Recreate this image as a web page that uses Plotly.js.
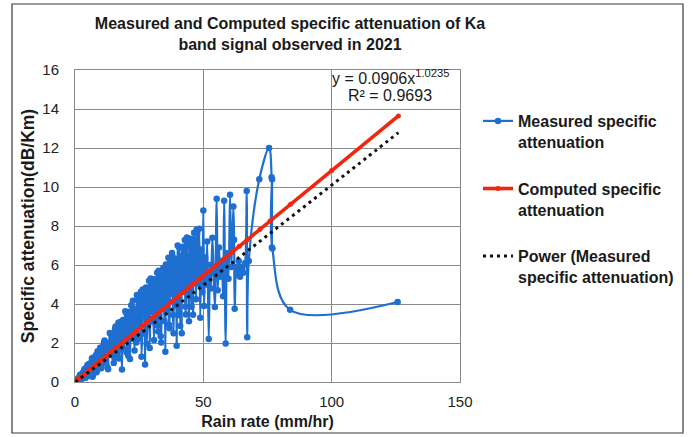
<!DOCTYPE html>
<html>
<head>
<meta charset="utf-8">
<script src="https://cdn.plot.ly/plotly-3.0.1.min.js"></script>
<style>
html,body{margin:0;padding:0;background:#fff;}
#chart{width:695px;height:437px;}
</style>
</head>
<body>
<div id="chart"></div>
<script>
// ---- Data ----
const rainRate = [
  0.2,0.4,0.6,0.8,1.0,1.2,1.4,1.6,1.8,2.0,2.2,2.4,2.6,2.8,3.0,3.2,3.4,3.6,3.8,4.0,4.2,4.4,4.6,4.8,5.0,
  5.2,5.4,5.6,5.8,6.0,6.2,6.4,6.6,6.8,7.0,7.2,7.4,7.6,7.8,8.0,8.2,8.4,8.6,8.8,9.0,9.2,9.4,9.6,9.8,
  10.2,10.4,10.6,10.85,11.1,11.3,11.5,11.75,12.0,12.2,12.4,12.65,12.9,13.1,13.3,13.55,13.8,14.0,14.2,14.45,
  14.7,14.9,15.1,15.35,15.6,15.8,16.0,16.25,16.5,16.7,16.9,17.15,17.4,17.6,17.8,18.05,18.3,18.5,18.7,18.95,
  19.2,19.4,19.6,19.85,20.1,20.3,20.5,20.75,21.0,21.2,21.4,21.65,21.9,22.1,22.3,22.55,22.8,23.0,23.2,23.45,
  23.7,23.9,24.1,24.35,24.6,24.8,25.0,25.25,25.5,25.7,25.9,26.15,26.4,26.6,26.8,27.05,27.3,27.5,27.7,27.95,
  28.2,28.4,28.6,28.85,29.1,29.3,29.5,29.75,
  30.0,30.2,30.4,30.6,30.8,31.0,31.2,31.4,31.6,31.8,32.0,32.2,32.4,32.6,32.8,33.0,33.2,33.4,33.6,33.8,
  34.0,34.2,34.4,34.6,34.8,35.0,35.2,35.4,35.6,35.8,36.0,36.2,36.4,36.6,36.8,37.0,37.2,37.4,37.6,37.8,
  38.0,38.2,38.4,38.6,38.8,39.0,39.2,39.4,39.6,39.8,40.0,40.2,40.4,40.6,40.8,41.0,41.2,41.4,41.6,41.8,
  42.0,42.2,42.4,42.6,42.8,43.0,43.2,43.4,43.6,43.8,44.0,44.2,44.4,44.6,44.8,45.0,45.2,45.4,45.6,45.8,
  46.0,46.2,46.4,46.6,46.8,47.0,47.2,47.4,47.6,47.8,48.0,
  48.4,48.8,49.2,49.6,50.0,50.3,50.7,51.1,51.5,52.1,52.6,53.0,53.5,54.0,54.5,55.2,55.6,56.1,56.6,57.2,
  57.7,58.1,58.7,59.2,59.8,60.4,60.9,61.7,62.0,62.2,62.8,63.3,63.8,64.3,64.9,65.5,66.3,66.9,67.1,67.7,
  71.8,75.6,76.6,76.7,76.8,76.9,83.8,125.7
];
const measuredAtt = [
  0.04,0.04,0.04,0.14,0.15,0.10,0.13,0.22,0.31,0.37,0.11,0.14,0.34,0.34,0.48,0.29,0.24,0.61,0.68,0.20,0.42,0.66,0.64,0.86,0.30,
  0.57,0.92,0.39,0.70,0.96,0.50,0.83,1.22,0.27,0.35,1.26,1.11,0.68,0.86,1.20,1.39,0.50,0.60,1.58,1.44,1.10,0.85,1.34,1.76,
  0.71,1.56,1.80,0.98,1.33,2.03,2.13,1.29,1.08,2.01,1.98,0.76,0.65,1.83,1.86,2.51,2.48,1.40,1.42,2.46,
  2.28,1.94,0.98,1.23,2.73,2.84,2.08,1.95,1.32,2.59,3.04,1.20,1.91,3.08,2.67,1.99,0.64,2.96,3.18,1.71,
  2.30,2.72,3.63,3.57,1.51,2.44,3.28,1.35,2.84,3.60,1.18,3.03,3.94,2.21,2.23,4.17,3.76,2.99,1.62,3.75,
  3.56,2.03,4.46,4.26,2.21,2.98,4.25,3.79,3.19,4.63,1.30,2.48,4.75,4.26,3.75,3.52,0.90,4.81,4.85,1.96,
  3.24,4.26,4.58,5.19,1.75,3.22,5.31,4.91,
  3.60,4.53,5.17,3.06,2.16,5.27,4.68,3.77,3.16,5.09,5.60,2.90,2.59,5.71,4.59,4.29,5.48,2.34,2.02,5.24,
  4.42,3.76,5.85,5.54,3.13,4.90,1.55,6.02,5.70,3.58,3.96,5.43,6.37,2.93,2.76,6.11,5.39,4.86,4.51,6.62,
  6.46,3.44,2.50,5.79,6.01,4.68,3.92,6.30,1.86,5.57,7.00,4.42,3.43,6.90,6.12,2.87,5.36,6.42,2.50,6.90,
  6.93,5.06,4.66,6.39,7.28,3.87,3.46,6.94,7.41,5.26,6.16,4.64,3.11,7.36,7.17,5.85,4.52,3.86,7.07,7.33,
  3.45,6.47,7.66,5.13,5.62,7.29,4.25,7.82,7.62,6.21,5.04,
  7.86,3.30,6.80,4.60,8.80,3.90,6.40,5.00,7.20,2.20,6.00,4.80,7.40,5.60,3.85,9.40,4.70,6.90,5.40,6.20,
  4.40,9.30,1.97,6.60,5.30,9.60,5.90,9.00,7.30,3.76,5.90,5.50,6.20,5.40,5.90,5.60,6.10,9.80,2.30,6.20,
  10.40,12.00,10.50,6.90,10.40,6.84,3.70,4.10
];

const computedRate = [0.2,1,2,3,4,5,6,8,10,12,14,16,18,20,22,24,26,28,30,32,34,36,38,40,42,44,46,48,50,52,55,58,61,64,67,72,76,84,100,126];
const computedAtt  = [0.023,0.112,0.223,0.333,0.444,0.554,0.664,0.883,1.102,1.321,1.539,1.758,1.976,2.194,2.411,2.629,2.846,3.064,3.281,3.498,3.715,3.932,4.149,4.366,4.583,4.799,5.016,5.232,5.449,5.665,5.990,6.314,6.638,6.962,7.286,7.826,8.258,9.121,10.845,13.642];

const trendRate = [0.1,1,5,10,20,30,40,50,60,70,80,90,100,110,126];
const trendAtt  = [0.009,0.091,0.471,0.956,1.944,2.944,3.952,4.965,5.985,7.008,8.036,9.064,10.098,11.13,12.79];

const xTicks = [0,50,100,150];
const yTicks = [0,2,4,6,8,10,12,14,16];

const seriesNames = [
  'Measured specific<br>attenuation',
  'Computed specific<br>attenuation',
  'Power (Measured<br>specific attenuation)'
];
const titleText = 'Measured and Computed specific attenuation of Ka<br>band signal observed in 2021';
const equationText = 'y = 0.0906x<sup>1.0235</sup>';
const r2Text = 'R² = 0.9693';

// ---- Layout constants ----
const W = 695, H = 437;
const M = {l:75, r:235, t:70, b:55};
const PW = W - M.l - M.r, PH = H - M.t - M.b;
const px2paperX = p => (p - M.l) / PW;
const px2paperY = p => (H - M.b - p) / PH;

const FONT = '"Liberation Sans", Arial, sans-serif';
const GRID = '#8a8a8a';
const BLUE = '#1f6fd1';
const RED = '#f2260f';

const traces = [
  {
    x: rainRate, y: measuredAtt, name: seriesNames[0], legendgroup: 'a',
    type: 'scatter', mode: 'lines+markers',
    line: {color: BLUE, width: 2.2, shape: 'spline', smoothing: 1},
    marker: {color: BLUE, size: 6.5}
  },
  {
    x: computedRate, y: computedAtt, name: seriesNames[1], legendgroup: 'b',
    type: 'scatter', mode: 'lines+markers',
    line: {color: RED, width: 3.6},
    marker: {color: RED, size: 5}
  },
  {
    x: trendRate, y: trendAtt, name: seriesNames[2], legendgroup: 'c',
    type: 'scatter', mode: 'lines',
    line: {color: '#111111', width: 3, dash: '3px,4px', shape: 'spline'}
  }
];

const layout = {
  width: W, height: H,
  margin: M,
  paper_bgcolor: '#ffffff', plot_bgcolor: '#ffffff',
  font: {family: FONT, color: '#1a1a1a', size: 15},
  title: {
    text: titleText,
    font: {family: FONT, size: 16, weight: 'bold', color: '#1a1a1a'},
    x: 290 / W, xref: 'container', xanchor: 'center',
    y: 1 - 29 / H, yref: 'container', yanchor: 'middle'
  },
  xaxis: {
    range: [0, 150], tickvals: xTicks, ticktext: xTicks.map(String),
    showgrid: true, gridcolor: GRID, gridwidth: 1,
    showline: true, linecolor: GRID, mirror: true, zeroline: false,
    ticks: 'outside', ticklen: 6, tickcolor: 'rgba(0,0,0,0)',
    tickfont: {family: FONT, size: 15, color: '#222'},
    title: {text: 'Rain rate (mm/hr)', font: {family: FONT, size: 16, weight: 'bold', color: '#1a1a1a'}, standoff: 6},
    fixedrange: true
  },
  yaxis: {
    range: [0, 16], tickvals: yTicks, ticktext: yTicks.map(String),
    showgrid: true, gridcolor: GRID, gridwidth: 1,
    showline: true, linecolor: GRID, mirror: true, zeroline: false,
    ticks: 'outside', ticklen: 12, tickcolor: 'rgba(0,0,0,0)',
    tickfont: {family: FONT, size: 15, color: '#222'},
    title: {text: 'Specific attenuation(dB/Km)', font: {family: FONT, size: 17.5, weight: 'bold', color: '#1a1a1a'}, standoff: 3},
    fixedrange: true
  },
  showlegend: true,
  legend: {
    x: px2paperX(478), xanchor: 'left',
    y: px2paperY(104), yanchor: 'top',
    font: {family: FONT, size: 16, weight: 'bold', color: '#1a1a1a'},
    traceorder: 'grouped', tracegroupgap: 23, valign: 'top',
    bgcolor: 'rgba(0,0,0,0)', borderwidth: 0
  },
  annotations: [
    {text: equationText, xref: 'paper', yref: 'paper', x: px2paperX(390), y: px2paperY(77),
     xanchor: 'center', yanchor: 'middle', showarrow: false,
     font: {family: FONT, size: 16, color: '#1a1a1a'}},
    {text: r2Text, xref: 'paper', yref: 'paper', x: px2paperX(390), y: px2paperY(95),
     xanchor: 'center', yanchor: 'middle', showarrow: false,
     font: {family: FONT, size: 16, color: '#1a1a1a'}}
  ],
  shapes: [
    {type: 'rect', xref: 'paper', yref: 'paper',
     x0: px2paperX(12), x1: px2paperX(683), y0: px2paperY(433), y1: px2paperY(4),
     line: {color: '#3a3a3a', width: 1.2}, fillcolor: 'rgba(0,0,0,0)', layer: 'below'}
  ]
};

Plotly.newPlot('chart', traces, layout, {displayModeBar: false, staticPlot: true});
</script>
</body>
</html>
